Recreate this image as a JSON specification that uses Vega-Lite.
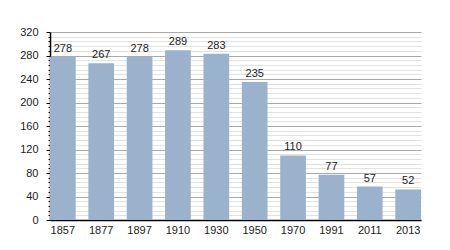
{
  "$schema": "https://vega.github.io/schema/vega-lite/v6.json",
  "width": 371,
  "height": 188,
  "autosize": {"type": "none"},
  "padding": {"left": 50, "top": 32, "right": 29, "bottom": 30},
  "background": "white",
  "config": {
    "view": {"stroke": null},
    "font": "Liberation Sans"
  },
  "data": {
    "values": [
      {"year": "1857", "pop": 278},
      {"year": "1877", "pop": 267},
      {"year": "1897", "pop": 278},
      {"year": "1910", "pop": 289},
      {"year": "1930", "pop": 283},
      {"year": "1950", "pop": 235},
      {"year": "1970", "pop": 110},
      {"year": "1991", "pop": 77},
      {"year": "2011", "pop": 57},
      {"year": "2013", "pop": 52}
    ]
  },
  "encoding": {
    "x": {
      "field": "year",
      "type": "nominal",
      "sort": null,
      "scale": {"paddingInner": 0.33, "paddingOuter": 0},
      "axis": {
        "title": null,
        "labelAngle": 0,
        "ticks": false,
        "labelPadding": 4,
        "labelFontSize": 11,
        "labelColor": "#222",
        "domainColor": "#000",
        "domainWidth": 1.5
      }
    },
    "y": {
      "field": "pop",
      "type": "quantitative",
      "scale": {"domain": [0, 320], "nice": false},
      "axis": {
        "title": null,
        "values": [0,8,16,24,32,40,48,56,64,72,80,88,96,104,112,120,128,136,144,152,160,168,176,184,192,200,208,216,224,232,240,248,256,264,272,280,288,296,304,312,320],
        "labelExpr": "datum.value % 40 === 0 ? datum.label : ''",
        "grid": true,
        "gridColor": {"condition": {"test": "datum.value % 40 === 0", "value": "#aaaaaa"}, "value": "#e2e2e2"},
        "tickSize": {"condition": {"test": "datum.value % 40 === 0", "value": 4}, "value": 2},
        "tickColor": "#000",
        "domainColor": "#000",
        "domainWidth": 1.5,
        "labelPadding": 8,
        "labelFontSize": 11,
        "labelColor": "#222"
      }
    }
  },
  "layer": [
    {"mark": {"type": "bar", "color": "#9bb2cc"}},
    {
      "mark": {"type": "text", "baseline": "bottom", "dy": -3, "fontSize": 11, "color": "#222"},
      "encoding": {"text": {"field": "pop", "type": "quantitative"}}
    }
  ]
}
